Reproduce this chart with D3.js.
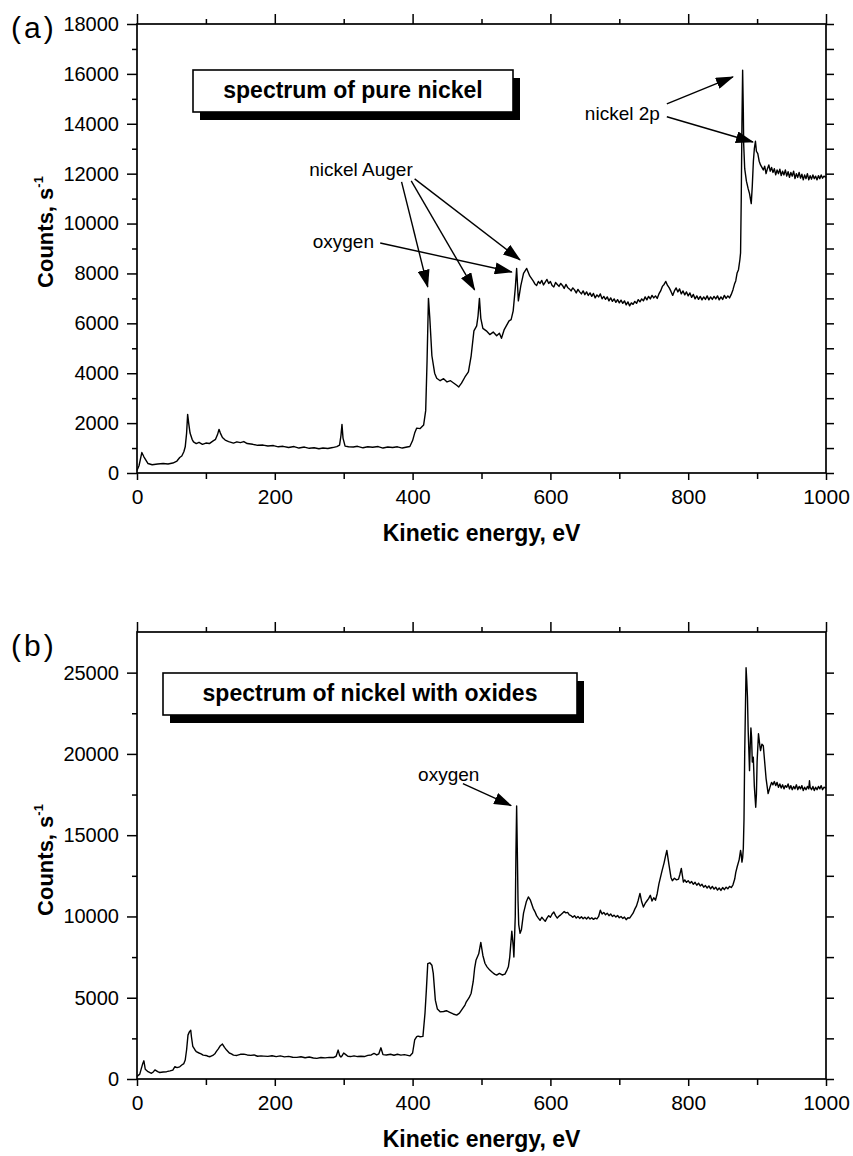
<!DOCTYPE html>
<html>
<head>
<meta charset="utf-8">
<script src="https://cdn.jsdelivr.net/npm/d3@7"></script>
<style>
  body { margin: 0; background: #fff; }
  svg text { font-family: "Liberation Sans", Arial, sans-serif; fill: #000; }
</style>
</head>
<body>
<div id="chart"></div>
<script>
// ---------- data: [kinetic energy eV, counts/s] ----------
// (a) pure nickel
const spectrumA = [
    [0, 100], [3, 300], [7, 820], [10, 650], [16, 380], [22, 330], [30, 360], [38, 380], [45, 360], [52, 400],
    [58, 480], [62, 620], [65, 680], [68, 850], [70, 1050], [72, 1600], [73.5, 2350], [75, 2000], [77, 1600], [80, 1350],
    [82, 1250], [86, 1180], [90, 1230], [95, 1150], [100, 1200], [105, 1180], [110, 1280], [114, 1350], [117, 1550], [119, 1750],
    [121, 1600], [124, 1420], [128, 1320], [133, 1260], [140, 1200], [145, 1250], [150, 1220], [155, 1260], [160, 1180], [168, 1150],
    [175, 1110], [183, 1120], [190, 1080], [198, 1100], [205, 1050], [212, 1070], [220, 1020], [228, 1060], [235, 1000], [243, 1040],
    [250, 990], [257, 1010], [264, 970], [270, 1000], [277, 980], [284, 1020], [290, 1060], [294, 1120], [296, 1500], [297.5, 1950],
    [299, 1400], [302, 1080], [307, 1050], [314, 1040], [320, 1070], [328, 1010], [335, 1050], [342, 1030], [350, 1060], [357, 1000],
    [364, 1040], [371, 1020], [378, 1050], [385, 1000], [392, 1040], [396, 1060], [400, 1300], [403, 1600], [406, 1800], [411, 1780],
    [416, 1920], [419, 2500], [421, 4500], [423, 7000], [425, 6200], [428, 4700], [432, 4000], [435, 3800], [440, 3700], [445, 3780],
    [450, 3650], [455, 3700], [460, 3600], [464, 3520], [467, 3450], [471, 3600], [476, 3850], [481, 4050], [485, 4700], [489, 5700],
    [493, 5900], [495, 6300], [497, 7000], [499, 6200], [502, 5800], [507, 5700], [512, 5550], [517, 5650], [522, 5500], [526, 5600],
    [529, 5400], [533, 5750], [536, 5900], [540, 6100], [543, 6150], [546, 6500], [549, 7400], [551, 8200], [553.5, 6900], [557, 7500],
    [561, 8000], [565.6, 8200], [570, 7900],
    [575, 7700], [577.5, 7580], [580, 7520], [582.5, 7680], [585, 7600], [587.5, 7720], [590, 7540], [592.5, 7650], [595, 7760], [597.5, 7600],
    [600, 7680], [602.5, 7520], [605, 7460], [607.5, 7640], [610, 7560], [612.5, 7480], [615, 7600], [617.5, 7520], [620, 7400], [622.5, 7560],
    [625, 7440], [627.5, 7380], [630, 7300], [632.5, 7420], [635, 7340], [637.5, 7220], [640, 7360], [642.5, 7260], [645, 7180], [647.5, 7300],
    [650, 7150], [652.5, 7260], [655, 7120], [657.5, 7220], [660, 7080], [662.5, 7200], [665, 7020], [667.5, 7140], [670, 7060], [672.5, 7180],
    [675, 6980], [677.5, 7080], [680, 6960], [682.5, 7060], [685, 6900], [687.5, 7020], [690, 6880], [692.5, 6980], [695, 6840], [697.5, 6950],
    [700, 6820], [702.5, 6930], [705, 6800], [707.5, 6900], [710, 6740], [712.5, 6860], [715, 6700], [717.5, 6820], [720, 6760], [722.5, 6880],
    [725, 6800], [727.5, 6950], [730, 6860], [732.5, 6980], [735, 6900], [737.5, 7060], [740, 6940], [742.5, 7080], [745, 6980], [747.5, 7120],
    [750, 7020], [752.5, 7100], [755, 7000], [757.5, 7180], [760, 7300], [762.5, 7480], [765, 7560], [767.5, 7680], [770, 7520], [772.5, 7420],
    [775, 7280], [777.5, 7120], [780, 7300], [782.5, 7420], [785, 7260], [787.5, 7380], [790, 7180], [792.5, 7300], [795, 7140], [797.5, 7260],
    [800, 7100], [802.5, 7220], [805, 7040], [807.5, 7160], [810, 6980], [812.5, 7100], [815, 6960], [817.5, 7080], [820, 6940], [822.5, 7060],
    [825, 6960], [827.5, 7100], [830, 6940], [832.5, 7060], [835, 6960], [837.5, 7080], [840, 6980], [842.5, 7100], [845, 6940], [847.5, 7060],
    [850, 6960], [852.5, 7120], [855, 7000], [857.5, 7100], [860, 7020], [862.5, 7160], [865, 7350], [867.5, 7600], [869, 7700], [871, 8020],
    [873, 8150], [875, 8550], [876, 8820], [877, 11000], [878, 14000], [879, 16150], [880, 14500], [880.5, 13200], [882, 12200], [884.5, 11700],
    [887, 11400], [889, 11200], [891.5, 10800], [893, 11500], [894.6, 12500], [896, 13000], [897.6, 13300],
    [899, 12900], [901, 12800], [903, 12500], [905, 12350], [907, 12250], [909, 12150], [911, 12300], [913, 12000], [915, 12200], [917, 12350],
    [919, 12100], [921, 12250], [923, 12050], [925, 12200], [927, 11950], [929, 12150], [931, 12000], [933, 12180], [935, 11920], [937, 12100],
    [939, 11950], [941, 12150], [943, 11900], [945, 12080], [947, 11850], [949, 12050], [951, 11900], [953, 12100], [955, 11800], [957, 12000],
    [959, 11850], [961, 12050], [963, 11820], [965, 11980], [967, 11750], [969, 11950], [971, 11800], [973, 12000], [975, 11750], [977, 11920],
    [979, 11780], [981, 11950], [983, 11800], [985, 11900], [987, 11750], [989, 11920], [991, 11800], [993, 11950], [995, 11820], [997, 11900],
    [1000, 11850]
];

// (b) nickel with oxides
const spectrumB = [
    [0, 150], [4, 300], [8, 900], [10, 1120], [12, 600], [16, 450], [21, 350], [24, 450], [26, 560], [30, 450],
    [33, 400], [38, 430], [43, 450], [48, 500], [52, 550], [55, 760], [58, 700], [62, 750], [65, 860], [68, 950],
    [70, 1170], [72, 1800], [74, 2700], [76, 2900], [78, 3000], [79, 2600], [81, 2000], [84, 1800], [86, 1680], [90, 1600],
    [93, 1550], [96, 1470], [100, 1450], [103, 1400], [106, 1370], [110, 1450], [113, 1550], [115, 1680], [118, 1850], [121, 2050],
    [124, 2150], [127, 1950], [130, 1780], [134, 1600], [137, 1550], [140, 1470], [145, 1450], [150, 1520], [155, 1530], [160, 1480],
    [165, 1450], [170, 1480], [175, 1400], [180, 1420], [184, 1410], [190, 1390], [196, 1430], [202, 1380], [208, 1420], [214, 1360],
    [220, 1390], [226, 1340], [232, 1330], [238, 1370], [244, 1310], [250, 1350], [256, 1290], [261, 1270], [267, 1320], [273, 1300],
    [279, 1330], [285, 1320], [289, 1400], [292, 1780], [294, 1450], [296, 1350], [298, 1450], [300, 1600], [303, 1500], [306, 1400],
    [310, 1380], [315, 1420], [320, 1380], [325, 1400], [330, 1380], [335, 1450], [340, 1480], [344, 1570], [348, 1480], [351, 1550],
    [354, 1920], [357, 1500], [362, 1480], [368, 1520], [373, 1460], [378, 1520], [383, 1470], [388, 1500], [393, 1450], [396, 1420],
    [400, 1600], [403, 2400], [406, 2600], [408, 2640], [411, 2600], [415, 2620], [418, 4050], [420, 5500], [422, 7100], [425, 7150],
    [428, 7000], [430, 6500], [433, 4850], [436, 4300], [440, 4130], [445, 4150], [449, 4200], [454, 4100], [459, 4000], [464, 3930],
    [468, 4050], [472, 4300], [476, 4550], [478, 4750], [482, 5000], [485, 5280], [488, 6000], [490, 6800], [492, 7300], [496, 7700],
    [499, 8400], [502, 7600], [505, 7120], [508, 6900], [512, 6700], [516, 6550], [519, 6450], [522, 6390], [526, 6500], [530, 6400],
    [534, 6450], [537, 6700], [539, 6900], [541, 7500], [544, 9100], [546, 8200], [547, 7510], [549, 10000], [550, 14000], [551, 16800],
    [552, 14000], [553, 11000], [554, 9500], [556, 8960], [558, 9200], [561, 10200], [565, 10900], [568, 11200], [571, 11000],
    [575, 10500], [577.5, 10300], [580, 10050], [582.5, 9900], [585, 9760], [587.5, 9950], [590, 9820], [592.5, 9700], [595, 9900], [597.5, 10050],
    [600, 9950], [602.5, 10150], [605, 10270], [607.5, 10050], [610, 9900], [612.5, 10020], [615, 10100], [617.5, 10200], [620, 10300], [622.5, 10220],
    [625, 10250], [627.5, 10100], [630, 10050], [632.5, 9950], [635, 10050], [637.5, 9900], [640, 10000], [642.5, 9880], [645, 9980], [647.5, 9860],
    [650, 9950], [652.5, 9850], [655, 9960], [657.5, 9840], [660, 9920], [662.5, 9820], [665, 9900], [667.5, 9850], [670, 10000], [672.5, 10380],
    [675, 10150], [677.5, 10250], [680, 10100], [682.5, 10200], [685, 10050], [687.5, 10150], [690, 10000], [692.5, 10080], [695, 9960], [697.5, 10060],
    [700, 9920], [702.5, 10000], [705, 9880], [707.5, 9960], [710, 9800], [712.5, 9920], [715, 9900], [717.5, 10050], [720, 10200], [722.5, 10450],
    [725, 10650], [727.5, 11000], [730, 11420], [732.5, 10900], [735, 10580], [737.5, 10800], [740, 10950], [742.5, 11100], [745, 11300], [747.5, 10950],
    [750, 11150], [752.5, 11000], [755, 11400], [757.5, 12000], [762, 12800], [765, 13300], [767, 13700], [769, 14060], [772, 13200], [775, 12400],
    [777, 12200], [780, 12350], [783, 12250], [786, 12300], [788, 12600], [790, 12960], [793, 12120],
    [795, 12250], [797.5, 12100], [800, 12200], [802.5, 12050], [805, 12150], [807.5, 11980], [810, 12100], [812.5, 11920], [815, 12050], [817.5, 11880],
    [820, 11980], [822.5, 11800], [825, 11900], [827.5, 11750], [830, 11880], [832.5, 11700], [835, 11850], [837.5, 11680], [840, 11800], [842.5, 11620],
    [845, 11750], [847.5, 11600], [850, 11780], [852.5, 11650], [855, 11800], [857.5, 11700], [860, 11850], [862.5, 11780], [865, 11950], [867.5, 12300],
    [869, 12700], [871, 13040], [874, 13500], [876, 14060], [877, 13800], [878, 13340], [879, 13600], [880, 14200], [881, 16000], [882, 20000],
    [884, 25300], [885, 24500], [886, 23500], [887, 21500], [889, 18970], [890, 20500], [891, 21600], [892, 21000], [893, 19500], [894.5, 19800],
    [896, 18000], [898, 16720], [899, 17500], [900, 19500], [902, 21240], [904, 20500], [905, 20200], [907, 20600], [909, 20500], [911, 19500],
    [913, 18500], [916, 17560],
    [919, 18000], [921, 18250], [923, 18100], [925, 18300], [927, 18050], [929, 18250], [931, 17950], [933, 18150], [935, 17900], [937, 18100],
    [939, 17850], [941, 18050], [943, 17950], [945, 18150], [947, 17850], [949, 18050], [951, 17800], [953, 18000], [955, 17850], [957, 18100],
    [959, 17800], [961, 18000], [963, 17850], [965, 18050], [967, 17750], [969, 17950], [971, 17800], [973, 18000], [975, 17850], [976, 18350],
    [977, 17950], [979, 17800], [981, 18000], [983, 17750], [985, 17950], [987, 17800], [989, 18000], [991, 17850], [993, 18050], [995, 17800],
    [997, 17950], [1000, 17900]
];

// tick values
const xTicks = [0, 200, 400, 600, 800, 1000];
const xMinor = [100, 300, 500, 700, 900];
const yTicksA = [0, 2000, 4000, 6000, 8000, 10000, 12000, 14000, 16000, 18000];
const yMinorA = [1000, 3000, 5000, 7000, 9000, 11000, 13000, 15000, 17000];
const yTicksB = [0, 5000, 10000, 15000, 20000, 25000];
const yMinorB = [2500, 7500, 12500, 17500, 22500];

// annotations in data units; arrows are [fromE, fromC, toE, toC]
const notesA = [
    { text: 'nickel 2p', e: 650, c: 14150 },
    { text: 'nickel Auger', e: 250, c: 11910 },
    { text: 'oxygen', e: 255, c: 9020 }
];
const arrowsA = [
    [769, 14800, 865, 15880],
    [769, 14280, 894, 13270],
    [384, 11670, 422, 7460],
    [398, 11710, 490, 7340],
    [403, 11790, 556, 8540],
    [353, 9220, 544, 8060]
];
const notesB = [
    { text: 'oxygen', e: 408, c: 18360 }
];
const arrowsB = [
    [473, 18170, 543, 16820]
];

// ---------- drawing ----------
const W = 853;
const H = 1156;
const svg = d3.select('#chart').append('svg')
    .attr('width', W)
    .attr('height', H);

const defs = svg.append('defs');
defs.append('marker')
    .attr('id', 'head')
    .attr('markerUnits', 'userSpaceOnUse')
    .attr('markerWidth', 18)
    .attr('markerHeight', 12)
    .attr('refX', 17)
    .attr('refY', 6)
    .attr('orient', 'auto')
    .append('path')
    .attr('d', 'M0,0 L18,6 L0,12 Z')
    .attr('fill', '#000');

function drawPanel(cfg) {
    const x = d3.scaleLinear().domain([0, 1000]).range([cfg.left, cfg.right]);
    const y = d3.scaleLinear().domain([0, cfg.yMax]).range([cfg.bottom, cfg.top]);
    const g = svg.append('g');

    // axes: major with labels, then minor ticks
    const fmt = d3.format('d');
    const axes = [
        [d3.axisBottom(x).tickValues(xTicks).tickSize(7).tickPadding(9), `translate(0,${cfg.bottom})`, true, 21],
        [d3.axisTop(x).tickValues(xTicks).tickSize(10), `translate(0,${cfg.top})`, false],
        [d3.axisLeft(y).tickValues(cfg.yTicks).tickSize(10).tickPadding(8), `translate(${cfg.left},0)`, true, 20],
        [d3.axisRight(y).tickValues(cfg.yTicks).tickSize(8), `translate(${cfg.right},0)`, false],
        [d3.axisBottom(x).tickValues(xMinor).tickSize(6), `translate(0,${cfg.bottom})`, false],
        [d3.axisTop(x).tickValues(xMinor).tickSize(5), `translate(0,${cfg.top})`, false],
        [d3.axisLeft(y).tickValues(cfg.yMinor).tickSize(5), `translate(${cfg.left},0)`, false],
        [d3.axisRight(y).tickValues(cfg.yMinor).tickSize(8), `translate(${cfg.right},0)`, false]
    ];
    axes.forEach(([ax, tr, labels, fs]) => {
        ax.tickSizeOuter(0).tickFormat(labels ? fmt : '');
        const a = g.append('g').attr('transform', tr).call(ax);
        a.select('.domain').remove();
        a.selectAll('line').attr('stroke', '#000').attr('stroke-width', 1.5);
        a.selectAll('text')
            .attr('font-family', '"Liberation Sans", Arial, sans-serif')
            .attr('font-size', fs || 10)
            .attr('fill', '#000');
    });

    // frame
    g.append('rect')
        .attr('x', cfg.left)
        .attr('y', cfg.top)
        .attr('width', cfg.right - cfg.left)
        .attr('height', cfg.bottom - cfg.top)
        .attr('fill', 'none')
        .attr('stroke', '#000')
        .attr('stroke-width', 1.7);

    // spectrum
    const line = d3.line()
        .x((d) => x(d[0]))
        .y((d) => y(d[1]));
    g.append('path')
        .attr('d', line(cfg.data))
        .attr('fill', 'none')
        .attr('stroke', '#000')
        .attr('stroke-width', 1.4)
        .attr('stroke-linejoin', 'round');

    // axis titles
    g.append('text')
        .attr('x', (cfg.left + cfg.right) / 2)
        .attr('y', cfg.bottom + 68)
        .attr('text-anchor', 'middle')
        .attr('font-weight', 'bold')
        .attr('font-size', 23)
        .text('Kinetic energy, eV');
    const yt = g.append('text')
        .attr('transform', `translate(53,${cfg.yTitleY}) rotate(-90)`)
        .attr('text-anchor', 'middle')
        .attr('font-weight', 'bold')
        .attr('font-size', 22);
    yt.append('tspan').text('Counts, s');
    yt.append('tspan')
        .attr('font-size', 13)
        .attr('dy', -10)
        .text('-1');

    // panel letter
    g.append('text')
        .attr('x', 11)
        .attr('y', cfg.letterY)
        .attr('font-family', '"Liberation Serif", "Times New Roman", serif')
        .attr('font-size', 30)
        .attr('letter-spacing', 3)
        .text(cfg.letter);

    // title box with drop shadow
    const b = cfg.box;
    g.append('rect')
        .attr('x', b.x + 7).attr('y', b.y + 8)
        .attr('width', b.w).attr('height', b.h)
        .attr('fill', '#000');
    g.append('rect')
        .attr('x', b.x).attr('y', b.y)
        .attr('width', b.w).attr('height', b.h)
        .attr('fill', '#fff')
        .attr('stroke', '#000')
        .attr('stroke-width', 1.6);
    g.append('text')
        .attr('x', b.x + b.w / 2)
        .attr('y', b.y + 28)
        .attr('text-anchor', 'middle')
        .attr('font-weight', 'bold')
        .attr('font-size', 23)
        .text(cfg.title);

    // annotations
    cfg.notes.forEach((n) => {
        g.append('text')
            .attr('x', x(n.e))
            .attr('y', y(n.c))
            .attr('font-size', 19)
            .text(n.text);
    });
    cfg.arrows.forEach((a) => {
        g.append('line')
            .attr('x1', x(a[0])).attr('y1', y(a[1]))
            .attr('x2', x(a[2])).attr('y2', y(a[3]))
            .attr('stroke', '#000')
            .attr('stroke-width', 1.4)
            .attr('marker-end', 'url(#head)');
    });
}

drawPanel({
    left: 137, right: 826, top: 24, bottom: 473,
    yMax: 18000, yTicks: yTicksA, yMinor: yMinorA,
    data: spectrumA,
    yTitleY: 232, letter: '(a)', letterY: 38,
    title: 'spectrum of pure nickel',
    box: { x: 193, y: 70, w: 320, h: 42 },
    notes: notesA, arrows: arrowsA
});

drawPanel({
    left: 137, right: 826, top: 632, bottom: 1079,
    yMax: 27500, yTicks: yTicksB, yMinor: yMinorB,
    data: spectrumB,
    yTitleY: 860, letter: '(b)', letterY: 656,
    title: 'spectrum of nickel with oxides',
    box: { x: 163, y: 673, w: 414, h: 42 },
    notes: notesB, arrows: arrowsB
});
</script>
</body>
</html>
